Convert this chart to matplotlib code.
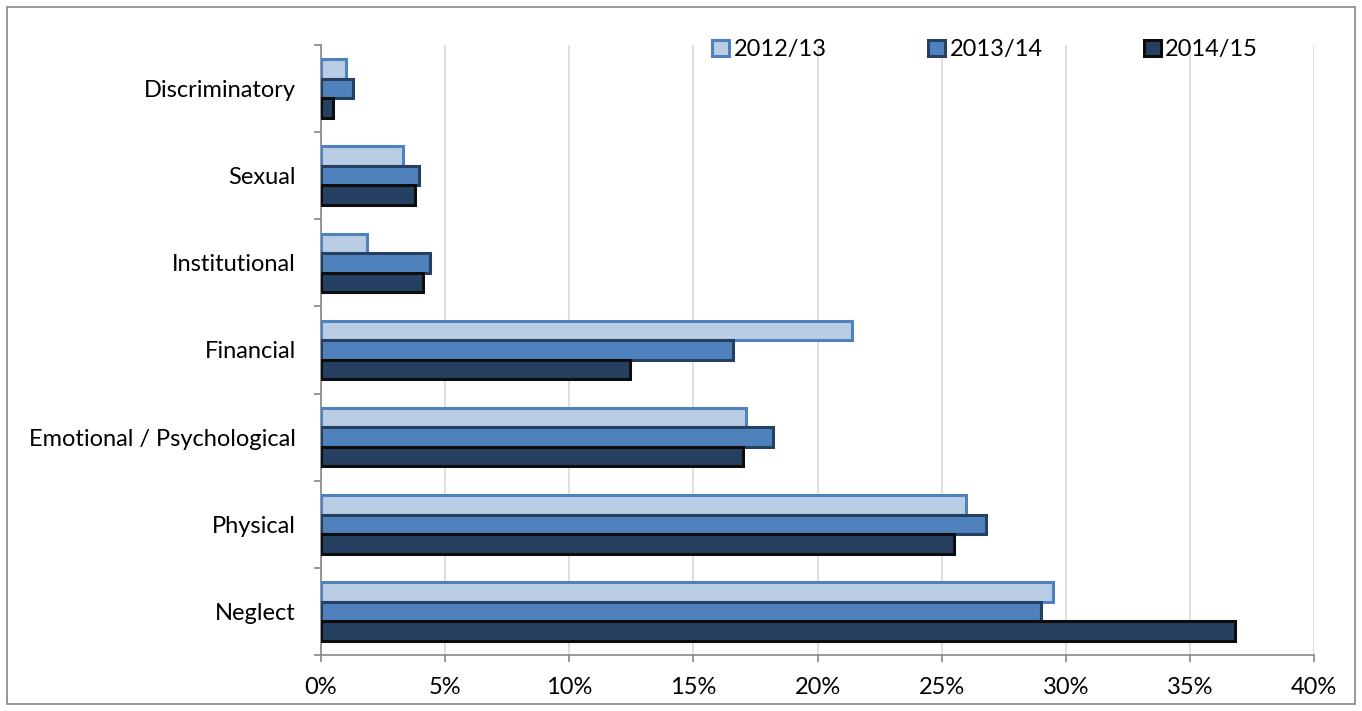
import matplotlib.pyplot as plt
import matplotlib.patches as mpatches
import numpy as np

# categorias de arriba hacia abajo
categorias = ['Discriminatory', 'Sexual', 'Institutional', 'Financial',
              'Emotional / Psychological', 'Physical', 'Neglect']
anios = ['2012/13', '2013/14', '2014/15']
v_2012 = [1.0, 3.3, 1.85, 21.4, 17.1, 26.0, 29.5]
v_2013 = [1.3, 3.95, 4.4, 16.6, 18.2, 26.8, 29.0]
v_2014 = [0.5, 3.8, 4.1, 12.45, 17.0, 25.5, 36.8]

rellenos = ['#B9CDE5', '#4F81BD', '#254061']
bordes = ['#4F81BD', '#254061', '#0D0D0D']

plt.rcParams['font.family'] = ['Lato', 'DejaVu Sans']
fs = 17

fig = plt.figure(figsize=(13.62, 7.11), dpi=100)
ax = fig.add_axes([321/1362, 1-655/711, (1314-321)/1362, (655-45)/711])

n = len(categorias)
y = n - 1 - np.arange(n)
h = 0.224
series = [v_2012, v_2013, v_2014]
offsets = [h, 0, -h]
for k in range(3):
    ax.barh(y + offsets[k], np.array(series[k]) / 100, height=h,
            color=rellenos[k], edgecolor=bordes[k], linewidth=2.2,
            label=anios[k], zorder=3)

ax.set_xlim(0, 0.40)
ax.set_ylim(-0.5, n - 0.5)
xt = np.arange(0, 0.401, 0.05)
ax.set_xticks(xt)
ax.set_xticklabels(['%d%%' % round(v * 100) for v in xt], fontsize=fs)
ax.xaxis.grid(True, color='#D9D9D9', linewidth=1.2, zorder=0)
ax.set_axisbelow(True)

ax.set_yticks(np.arange(-0.5, n, 1.0))
ax.set_yticklabels([])
ax.set_yticks(y, minor=True)
ax.set_yticklabels(categorias, minor=True, fontsize=fs)
ax.tick_params(axis='y', which='minor', length=0, pad=18)
ax.tick_params(axis='y', which='major', length=5, width=1.2, color='#868686', direction='out')
ax.tick_params(axis='x', length=5, width=1.2, color='#868686', direction='out', pad=11)

for s in ['top', 'right']:
    ax.spines[s].set_visible(False)
for s in ['left', 'bottom']:
    ax.spines[s].set_color('#868686')
    ax.spines[s].set_linewidth(1.2)

handles = [mpatches.Patch(facecolor=rellenos[k], edgecolor=bordes[k], linewidth=2.2)
           for k in range(3)]
leg = fig.legend(handles, anios, loc='upper left', bbox_to_anchor=(703/1362, 1-30/711),
                 ncol=3, frameon=False, fontsize=fs, handlelength=0.7, handleheight=0.7,
                 handletextpad=0.2, columnspacing=4.3, borderaxespad=0)

# borde exterior
fig.patches.append(mpatches.Rectangle((7/1362, 7/711), 1-14/1362, 1-14/711,
                                      transform=fig.transFigure, fill=False,
                                      edgecolor='#868686', linewidth=1.2))

fig.savefig('out.png', dpi=100)
